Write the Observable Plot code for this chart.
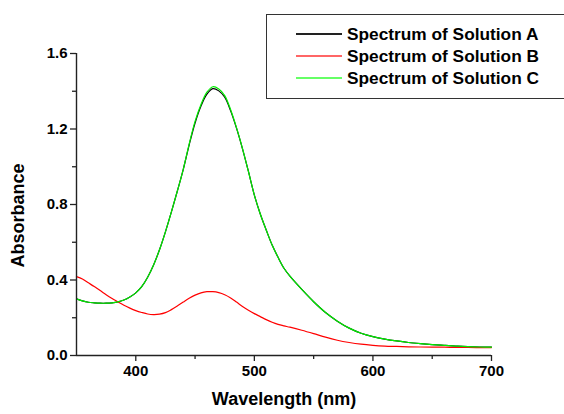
<!DOCTYPE html>
<html>
<head>
<meta charset="utf-8">
<script src="https://cdn.jsdelivr.net/npm/d3@7"></script>
<script src="https://cdn.jsdelivr.net/npm/@observablehq/plot@0.6"></script>
<style>
  body { margin: 0; background: #fff; }
  #wrap { position: relative; width: 564px; height: 414px; overflow: hidden; font-family: "Liberation Sans", Arial, sans-serif; }
  #legend { position: absolute; left: 266px; top: 14px; width: 320px; height: 85px; border: 1.5px solid #333; box-sizing: border-box; background: #fff; }
  .row { position: absolute; left: 29px; height: 20px; display: flex; align-items: center; }
  .sw { width: 46px; height: 2px; margin-right: 5px; }
  .lbl { font-size: 17.3px; font-weight: bold; color: #000; white-space: nowrap; }
</style>
</head>
<body>
<div id="wrap"></div>
<script>
// ---- data ----
const seriesNames = ["Spectrum of Solution A", "Spectrum of Solution B", "Spectrum of Solution C"];
const seriesColors = ["#000000", "#ff0000", "#00ee00"];
const legendSwatchColors = ["#222222", "#ff6666", "#66ff66"];

const wavelength = [350, 355, 360, 365, 370, 375, 380, 385, 390, 395, 400, 405, 410, 415, 420, 425, 430, 435, 440, 445,
  450, 455, 460, 465, 470, 475, 480, 485, 490, 495, 500, 505, 510, 515, 520, 525, 530, 540, 550, 560,
  570, 580, 590, 600, 610, 620, 630, 640, 650, 660, 670, 680, 690, 700];

const absA = [0.300, 0.289, 0.282, 0.279, 0.277, 0.277, 0.279, 0.284, 0.294, 0.310, 0.332, 0.365, 0.415, 0.480, 0.560, 0.655, 0.760, 0.870, 0.985, 1.115,
  1.232, 1.322, 1.385, 1.414, 1.402, 1.368, 1.296, 1.203, 1.095, 0.975, 0.850, 0.750, 0.665, 0.585, 0.520, 0.462, 0.420, 0.350, 0.285, 0.228,
  0.182, 0.145, 0.118, 0.100, 0.087, 0.077, 0.069, 0.063, 0.058, 0.054, 0.050, 0.047, 0.045, 0.044];

const absB = [0.418, 0.405, 0.385, 0.365, 0.344, 0.322, 0.302, 0.284, 0.266, 0.251, 0.238, 0.228, 0.220, 0.217, 0.219, 0.227, 0.243, 0.262, 0.283, 0.303,
  0.320, 0.332, 0.338, 0.338, 0.333, 0.322, 0.305, 0.283, 0.260, 0.240, 0.222, 0.206, 0.190, 0.176, 0.165, 0.157, 0.150, 0.134, 0.116, 0.097,
  0.081, 0.069, 0.060, 0.054, 0.050, 0.048, 0.046, 0.045, 0.044, 0.044, 0.043, 0.043, 0.042, 0.042];

const absC = [0.300, 0.289, 0.282, 0.279, 0.277, 0.277, 0.279, 0.284, 0.294, 0.310, 0.332, 0.365, 0.415, 0.480, 0.560, 0.655, 0.760, 0.870, 0.985, 1.120,
  1.240, 1.330, 1.395, 1.424, 1.412, 1.377, 1.302, 1.206, 1.096, 0.975, 0.850, 0.750, 0.665, 0.585, 0.520, 0.462, 0.420, 0.350, 0.285, 0.228,
  0.182, 0.145, 0.118, 0.100, 0.087, 0.077, 0.069, 0.063, 0.058, 0.054, 0.050, 0.047, 0.045, 0.044];

const xMajorTicks = [400, 500, 600, 700];
const xMinorTicks = [450, 550, 650];
const yMajorTicks = [0, 0.4, 0.8, 1.2, 1.6];
const yMinorTicks = [0.2, 0.6, 1.0, 1.4];
const xLabel = "Wavelength (nm)";
const yLabel = "Absorbance";

// ---- build table ----
const seriesValues = [absA, absB, absC];
const rows = [];
seriesNames.forEach((name, i) => {
  wavelength.forEach((w, j) => rows.push({series: name, wavelength: w, value: seriesValues[i][j]}));
});

const font = "Liberation Sans, Arial, sans-serif";
const axisColor = "#222";

const chart = Plot.plot({
  width: 564,
  height: 414,
  marginLeft: 76,
  marginRight: 73,
  marginTop: 53,
  marginBottom: 59,
  style: {fontFamily: font, fontWeight: "bold", color: "#000", background: "#fff", overflow: "visible"},
  x: {domain: [350, 700]},
  y: {domain: [0, 1.6]},
  color: {domain: seriesNames, range: seriesColors},
  marks: [
    Plot.line(rows, {x: "wavelength", y: "value", z: "series", stroke: "series", strokeWidth: 1.2, curve: "catmull-rom"}),
    Plot.ruleX([350], {stroke: axisColor, strokeWidth: 1.4}),
    Plot.ruleY([0], {stroke: axisColor, strokeWidth: 1.4}),
    Plot.axisX(xMajorTicks, {tickSize: 6, tickPadding: 4, fontSize: 15, stroke: axisColor, strokeWidth: 1.3, label: null}),
    Plot.axisX(xMinorTicks, {tickSize: 4, tickFormat: () => "", stroke: axisColor, strokeWidth: 1.3, label: null}),
    Plot.axisX([], {label: xLabel, labelAnchor: "center", labelArrow: "none", labelOffset: 49, fontSize: 18, tickSize: 0}),
    Plot.axisY(yMajorTicks, {tickSize: 6, tickPadding: 3, fontSize: 15, tickFormat: d3.format(".1f"), stroke: axisColor, strokeWidth: 1.3, label: null}),
    Plot.axisY(yMinorTicks, {tickSize: 4, tickFormat: () => "", stroke: axisColor, strokeWidth: 1.3, label: null}),
    Plot.text([yLabel], {text: d => d, frameAnchor: "left", textAnchor: "middle", lineAnchor: "middle", rotate: -90, dx: -58, dy: 11, fontSize: 18, fontWeight: "bold", fill: "#000"})
  ]
});

const wrap = document.getElementById("wrap");
wrap.appendChild(chart);

// ---- legend (HTML overlay) ----
const legend = document.createElement("div");
legend.id = "legend";
const rowTops = [9, 31, 53];
seriesNames.forEach((name, i) => {
  const r = document.createElement("div");
  r.className = "row";
  r.style.top = rowTops[i] + "px";
  const sw = document.createElement("div");
  sw.className = "sw";
  sw.style.background = legendSwatchColors[i];
  const t = document.createElement("span");
  t.className = "lbl";
  t.textContent = name;
  r.appendChild(sw);
  r.appendChild(t);
  legend.appendChild(r);
});
wrap.appendChild(legend);
</script>
</body>
</html>
